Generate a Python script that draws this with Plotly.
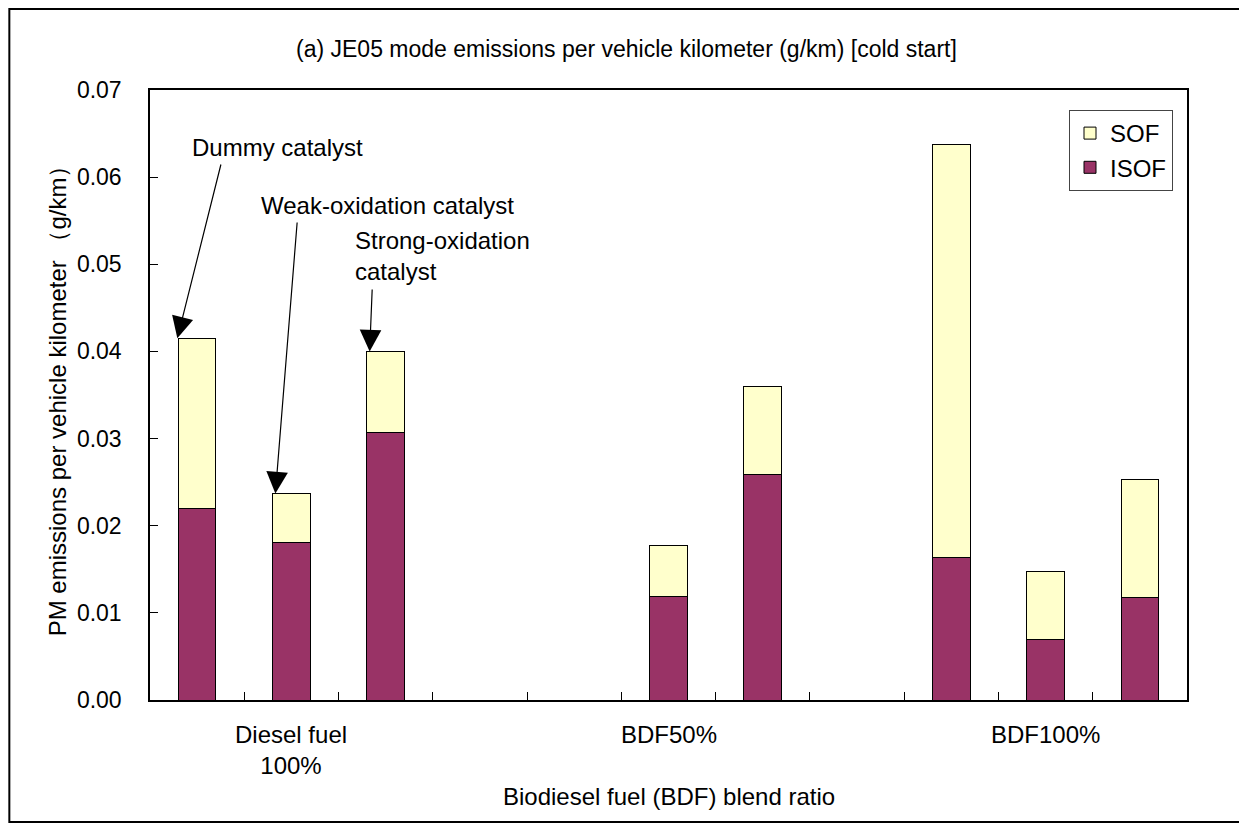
"""PM emissions per vehicle kilometer, stacked SOF / ISOF by BDF blend and catalyst"""

import plotly.graph_objects as go

# data (g/km)
BLENDS = ["Diesel fuel<br>100%", "BDF50%", "BDF100%"]
CATALYSTS = ["Dummy catalyst", "Weak-oxidation catalyst", "Strong-oxidation<br>catalyst"]
ISOF_DIESEL = [0.0220, 0.0181, 0.0307]
SOF_DIESEL = [0.0195, 0.0056, 0.0093]
ISOF_BDF50 = [None, 0.0119, 0.0259]
SOF_BDF50 = [None, 0.0058, 0.0101]
ISOF_BDF100 = [0.0163, 0.0070, 0.0118]
SOF_BDF100 = [0.0474, 0.0078, 0.0135]

Y_TICKS = [0.00, 0.01, 0.02, 0.03, 0.04, 0.05, 0.06, 0.07]

FONT = "Arial, Liberation Sans, sans-serif"
ISOF_COLOR = "#993366"
SOF_COLOR = "#FFFFCC"
SLOTS_PER_GROUP = 4  # 3 catalysts + 1 empty gap slot

isof_by_blend = [ISOF_DIESEL, ISOF_BDF50, ISOF_BDF100]
sof_by_blend = [SOF_DIESEL, SOF_BDF50, SOF_BDF100]

# flatten into slot positions on a linear axis
x_pos, isof, sof = [], [], []
for g, (iso_vals, sof_vals) in enumerate(zip(isof_by_blend, sof_by_blend)):
    for c in range(len(CATALYSTS)):
        x_pos.append(g * SLOTS_PER_GROUP + c)
        isof.append(iso_vals[c])
        sof.append(sof_vals[c])

n_slots = SLOTS_PER_GROUP * len(BLENDS) - 1

# page has an 8px body margin, so the figure is laid out 8px in from the window
PLOT_L, PLOT_R, PLOT_T, PLOT_B = 149.7, 1187, 90, 700  # window pixels
PAGE_OFF = 8


def paper_x(px):
    return (px - PLOT_L) / (PLOT_R - PLOT_L)


def paper_y(py):
    return (PLOT_B - py) / (PLOT_B - PLOT_T)


def px_x(px):
    return paper_x(px) * n_slots - 0.5


def px_y(py):
    return paper_y(py) * Y_TICKS[-1]


fig = go.Figure()
fig.add_trace(
    go.Bar(
        x=x_pos, y=isof, name="ISOF",
        marker=dict(color=ISOF_COLOR, line=dict(color="black", width=1)),
    )
)
fig.add_trace(
    go.Bar(
        x=x_pos, y=sof, name="SOF",
        marker=dict(color=SOF_COLOR, line=dict(color="black", width=1)),
    )
)

fig.update_layout(
    barmode="stack",
    bargap=0.6,
    width=1247 - PAGE_OFF,
    height=823 - PAGE_OFF,
    margin=dict(
        l=PLOT_L - PAGE_OFF,
        r=1247 - PLOT_R,
        t=PLOT_T - PAGE_OFF,
        b=823 - PLOT_B,
    ),
    paper_bgcolor="white",
    plot_bgcolor="white",
    font=dict(family=FONT, size=24, color="black"),
    showlegend=True,
    legend=dict(
        traceorder="reversed",
        x=paper_x(1173), xanchor="right",
        y=paper_y(110), yanchor="top",
        bordercolor="#444", borderwidth=1,
        bgcolor="white",
        font=dict(size=24),
    ),
    xaxis=dict(
        range=[-0.5, n_slots - 0.5],
        tickvals=[i + 0.5 for i in range(n_slots - 1)],
        showticklabels=False,
        ticks="inside", ticklen=8, tickcolor="black",
        showline=True, linecolor="black", linewidth=1.5, mirror=True,
        showgrid=False, zeroline=False, fixedrange=True,
    ),
    yaxis=dict(
        range=[Y_TICKS[0], Y_TICKS[-1]],
        tickvals=Y_TICKS,
        tickformat=".2f",
        tickfont=dict(size=23),
        ticks="inside", ticklen=8, tickcolor="black",
        ticklabelstandoff=22,
        showline=True, linecolor="black", linewidth=1.5, mirror=True,
        showgrid=False, zeroline=False, fixedrange=True,
    ),
)

# title
fig.add_annotation(
    text="(a) JE05 mode emissions per vehicle kilometer (g/km) [cold start]",
    xref="paper", yref="paper", x=paper_x(626), y=paper_y(49),
    showarrow=False, xanchor="center", yanchor="middle", font=dict(size=23),
)

# axis titles
fig.add_annotation(
    text="PM emissions per vehicle kilometer （g/km）",
    xref="paper", yref="paper", x=paper_x(57), y=paper_y(395),
    textangle=-90, showarrow=False, xanchor="center", yanchor="middle",
)
fig.add_annotation(
    text="Biodiesel fuel (BDF) blend ratio",
    xref="paper", yref="paper", x=0.5, y=paper_y(796),
    showarrow=False, xanchor="center", yanchor="middle",
)

# blend group labels under the middle slot of each group
for g, label in enumerate(BLENDS):
    fig.add_annotation(
        text=label, x=g * SLOTS_PER_GROUP + 1, xref="x",
        yref="paper", y=paper_y(719), yanchor="top",
        showarrow=False,
    )

# catalyst call-outs on the diesel group: text and arrow drawn separately
label_px = [(190, 147), (259, 205), (353, 256)]
tail_px = [(221, 163), (297, 221), (372, 288)]
tip_shift = [-0.21, -0.17, -0.17]
for c, name in enumerate(CATALYSTS):
    tx, ty = label_px[c]
    fig.add_annotation(
        text=name, x=px_x(tx), y=px_y(ty), xref="x", yref="y",
        xanchor="left", yanchor="middle", align="left",
        showarrow=False,
    )
    fig.add_annotation(
        text="", x=x_pos[c] + tip_shift[c], y=isof[c] + sof[c], xref="x", yref="y",
        ax=px_x(tail_px[c][0]), ay=px_y(tail_px[c][1]), axref="x", ayref="y",
        showarrow=True, arrowhead=2, arrowsize=3.6, arrowwidth=1.2,
        arrowcolor="black",
    )

# outer chart border
fig.add_shape(
    type="rect", xref="paper", yref="paper",
    x0=paper_x(PAGE_OFF + 1), x1=paper_x(1246),
    y0=paper_y(822), y1=paper_y(PAGE_OFF + 1),
    line=dict(color="black", width=2), layer="below",
)

fig.write_html("out.html")
